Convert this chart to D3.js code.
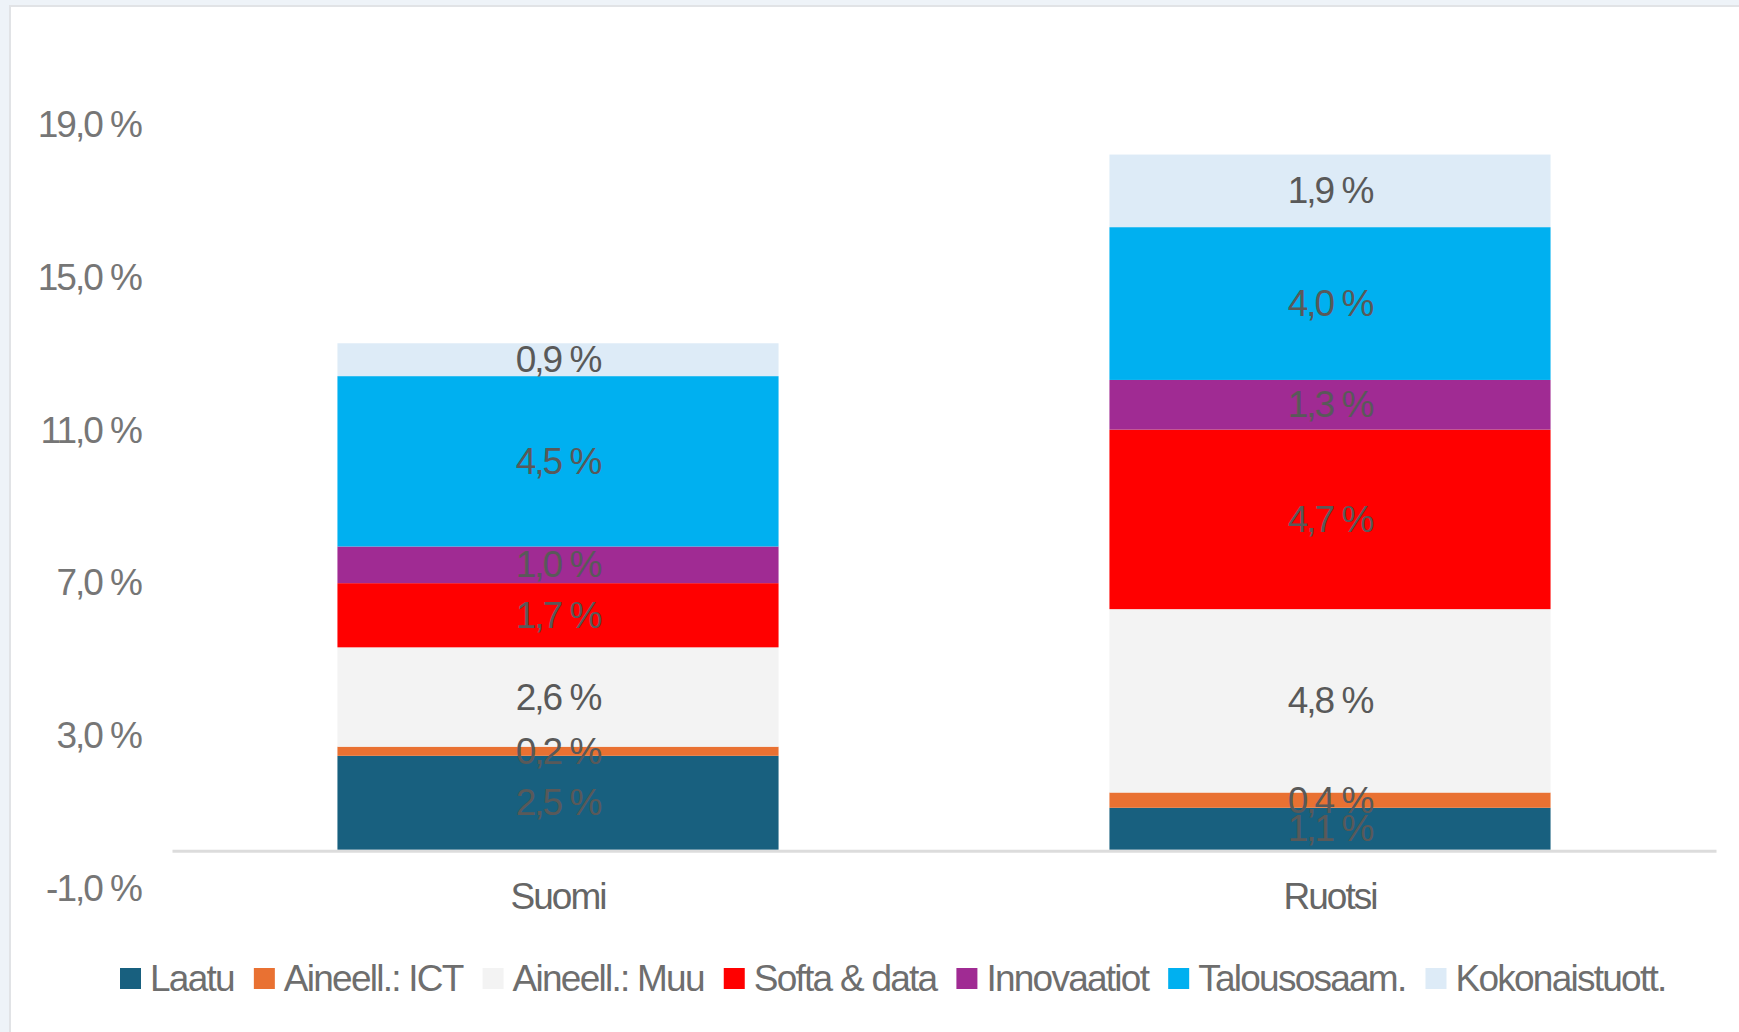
<!DOCTYPE html>
<html>
<head>
<meta charset="utf-8">
<script src="https://cdn.jsdelivr.net/npm/d3@7"></script>
<style>
  html, body { margin: 0; padding: 0; background: #eef3f8; }
  svg { display: block; }
  text { font-family: "Liberation Sans", Arial, sans-serif; }
</style>
</head>
<body>
<svg id="chart" width="1739" height="1032"></svg>
<script>
// categories and series
const categories = ["Suomi", "Ruotsi"];
const seriesNames = ["Laatu", "Aineell.: ICT", "Aineell.: Muu", "Softa & data", "Innovaatiot", "Talousosaam.", "Kokonaistuott."];
const seriesColors = ["#18607f", "#e97132", "#f3f3f3", "#ff0000", "#a02b93", "#00b0f0", "#ddebf7"];

// values per series, in category order (labels show them rounded)
const laatu = [2.46, 1.1];
const aineellIct = [0.24, 0.4];
const aineellMuu = [2.6, 4.8];
const softaData = [1.68, 4.7];
const innovaatiot = [0.96, 1.3];
const talousosaam = [4.46, 4.0];
const kokonaistuott = [0.86, 1.9];

const yTicks = [-1, 3, 7, 11, 15, 19];

const seriesValues = [laatu, aineellIct, aineellMuu, softaData, innovaatiot, talousosaam, kokonaistuott];

// build table for d3.stack
const table = categories.map((c, i) => {
  const row = { cat: c };
  seriesNames.forEach((s, k) => { row[s] = seriesValues[k][i]; });
  return row;
});

const fmt = v => d3.format(".1f")(v).replace(".", ",").replace("−", "-") + " %";

const svg = d3.select("#chart");
const W = 1739, H = 1032;

// white chart area
svg.append("rect")
  .attr("x", 10).attr("y", 6)
  .attr("width", W).attr("height", H)
  .attr("fill", "#fff")
  .attr("stroke", "#e1e3e6")
  .attr("stroke-width", 2);

const x = d3.scaleBand()
  .domain(categories)
  .range([172, 1716])
  .paddingInner(0.4286)
  .paddingOuter(0.2143);

const y = d3.scaleLinear()
  .domain([-1, 19])
  .range([888, 124]);

const stack = d3.stack().keys(seriesNames);
const layers = stack(table);

const TXT = { size: 37, ls: -2 };

// bars
const g = svg.append("g");
layers.forEach((layer, k) => {
  g.selectAll(null)
    .data(layer)
    .enter()
    .append("rect")
    .attr("x", d => x(d.data.cat))
    .attr("width", x.bandwidth())
    .attr("y", d => y(d[1]))
    .attr("height", d => y(d[0]) - y(d[1]))
    .attr("fill", seriesColors[k]);
});

// data labels
layers.forEach((layer, k) => {
  g.selectAll(null)
    .data(layer)
    .enter()
    .append("text")
    .attr("x", d => x(d.data.cat) + x.bandwidth() / 2)
    .attr("y", d => y((d[0] + d[1]) / 2))
    .attr("text-anchor", "middle")
    .attr("dominant-baseline", "central")
    .attr("font-size", TXT.size)
    .attr("letter-spacing", TXT.ls)
    .attr("fill", "#595959")
    .text(d => fmt(d.data[layer.key]));
});

// y axis labels
const yAxis = svg.append("g")
  .attr("transform", "translate(141,0)")
  .call(d3.axisLeft(y).tickValues(yTicks).tickFormat(fmt).tickSize(0).tickPadding(0));
yAxis.select(".domain").remove();
yAxis.selectAll("text")
  .attr("font-size", TXT.size)
  .attr("letter-spacing", TXT.ls)
  .attr("fill", "#767676")
  .attr("dy", null)
  .attr("dominant-baseline", "central")
  .style("font-family", "'Liberation Sans', Arial, sans-serif");

// x axis
const xAxis = svg.append("g")
  .attr("transform", `translate(0,${y(0) + 1})`)
  .call(d3.axisBottom(x).tickSize(0).tickPadding(32));
xAxis.select(".domain")
  .attr("stroke", "#dcdcdc")
  .attr("stroke-width", 3);
xAxis.selectAll("text")
  .attr("font-size", TXT.size)
  .attr("letter-spacing", TXT.ls)
  .attr("fill", "#666")
  .style("font-family", "'Liberation Sans', Arial, sans-serif");

// legend
const legend = svg.append("g").attr("transform", "translate(0,978)");
let lx = 120;
seriesNames.forEach((s, k) => {
  legend.append("rect")
    .attr("x", lx).attr("y", -10)
    .attr("width", 21).attr("height", 21)
    .attr("fill", seriesColors[k]);
  const t = legend.append("text")
    .attr("x", lx + 30)
    .attr("y", 0)
    .attr("dominant-baseline", "central")
    .attr("font-size", TXT.size)
    .attr("letter-spacing", -1.75)
    .attr("fill", "#6e6e6e")
    .text(s);
  lx = lx + 30 + t.node().getComputedTextLength() + 20;
});
</script>
</body>
</html>
